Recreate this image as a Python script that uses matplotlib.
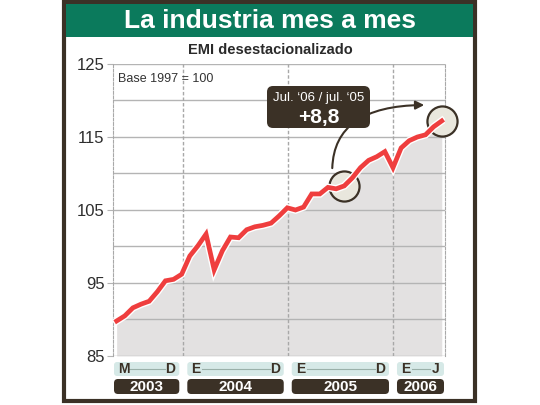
import matplotlib
matplotlib.use('Agg')
import matplotlib.pyplot as plt
from matplotlib.patches import FancyBboxPatch, Rectangle, FancyArrowPatch
import matplotlib.patheffects as pe

plt.rcParams['font.family'] = ['Liberation Sans Narrow', 'Liberation Sans', 'DejaVu Sans']

# EMI desestacionalizado, marzo 2003 - julio 2006 (base 1997 = 100)
emi = [89.8, 90.5, 91.6, 92.1, 92.5, 93.8, 95.3, 95.5, 96.2, 98.7,
       100.1, 101.7, 96.8, 99.4, 101.3, 101.2, 102.3, 102.7, 102.9, 103.2,
       104.2, 105.3, 105.0, 105.4, 107.2, 107.2, 108.1, 107.9, 108.3, 109.4,
       110.8, 111.8, 112.3, 113.0, 110.8, 113.5, 114.5, 115.0, 115.3, 116.4,
       117.2]
months = list(range(len(emi)))
years = ['2003', '2004', '2005', '2006']
month_ends = [('M', 'D'), ('E', 'D'), ('E', 'D'), ('E', 'J')]
year_breaks = [8.2, 21.05, 34.0]
yticks = [85, 95, 105, 115, 125]
highlight = [28, 40]  # jul. '05 y jul. '06

red = '#ef3e3e'
brown = '#3b3126'
green = '#0b7a5c'

fig = plt.figure(figsize=(5.4, 4.05), dpi=100)

# background overlay in pixel coordinates
bg = fig.add_axes([0, 0, 1, 1], zorder=0)
bg.set_xlim(0, 540)
bg.set_ylim(405, 0)
bg.axis('off')
bg.add_patch(Rectangle((64, 2), 411, 399, facecolor='white', edgecolor=brown, lw=3))
bg.add_patch(Rectangle((66, 4), 407, 33, facecolor=green, edgecolor='none'))
bg.text(270, 21, 'La industria mes a mes', color='white', fontsize=19, fontweight='bold',
        ha='center', va='center')
bg.text(270, 50, 'EMI desestacionalizado', color='#2a2a2a', fontsize=10.5, fontweight='bold',
        ha='center', va='center')

ax = fig.add_axes([113 / 540, 49 / 405, 332 / 540, 292 / 405], zorder=1)
ax.set_facecolor('white')
ax.set_xlim(-0.45, 40.4)
ax.set_ylim(85, 125)

ax.fill_between(months, emi, 85, color='#e3e1e1', lw=0, zorder=1)
for y in range(85, 126, 5):
    ax.axhline(y, color='#b4b4b4', lw=1, zorder=2)
for x in year_breaks:
    ax.axvline(x, color='#a8a8a8', lw=1, ls=(0, (2.5, 1.5)), zorder=2)

ax.scatter([months[i] for i in highlight], [emi[i] for i in highlight], s=470,
           facecolor='#e9e7dd', edgecolor=brown, lw=1.6, zorder=3, clip_on=False)
ax.plot(months, emi, color=red, lw=3.4, zorder=4, solid_joinstyle='miter',
        path_effects=[pe.Stroke(linewidth=5.4, foreground='white'), pe.Normal()])

for side in ['top', 'bottom']:
    ax.spines[side].set_visible(False)
for side in ['left', 'right']:
    ax.spines[side].set_linestyle((0, (2.5, 1.5)))
    ax.spines[side].set_color('#a8a8a8')
ax.set_xticks([])
ax.set_yticks(yticks)
ax.set_yticklabels([str(v) for v in yticks], fontsize=12, color='#2e2e2e')
ax.tick_params(axis='y', length=4, color='#b4b4b4', pad=2)
ax.text(0.2, 123, 'Base 1997 = 100', fontsize=9, color='#333333', va='center', zorder=5)

# foreground overlay: year boxes and callout
fg = fig.add_axes([0, 0, 1, 1], zorder=2)
fg.set_xlim(0, 540)
fg.set_ylim(405, 0)
fg.axis('off')
fg.patch.set_alpha(0)

fig.canvas.draw()


def to_px(x):
    return ax.transData.transform((x, 85))[0]


edges = [ax.get_xlim()[0]] + year_breaks + [ax.get_xlim()[1]]
for k, yr in enumerate(years):
    x0 = to_px(edges[k]) + (0 if k == 0 else 3)
    x1 = to_px(edges[k + 1]) - (0 if k == len(years) - 1 else 3)
    fg.add_patch(FancyBboxPatch((x0 + 1, 362), x1 - x0 - 2, 14,
                                boxstyle='round,pad=0,rounding_size=3',
                                facecolor='#d6e9e7', edgecolor='none'))
    fg.add_patch(FancyBboxPatch((x0 + 1, 379), x1 - x0 - 2, 15,
                                boxstyle='round,pad=0,rounding_size=4',
                                facecolor=brown, edgecolor='none'))
    fg.text((x0 + x1) / 2, 387, yr, color='white', fontsize=11, fontweight='bold',
            ha='center', va='center')
    a, b = month_ends[k]
    fg.text(x0 + 5, 369, a, color=brown, fontsize=10, fontweight='bold', ha='left', va='center')
    fg.text(x1 - 5, 369, b, color=brown, fontsize=10, fontweight='bold', ha='right', va='center')
    fg.plot([x0 + 16, x1 - 15], [369, 369], color='#9ab0a9', lw=0.8)

x_a, y_a = ax.transData.transform((months[highlight[0]], emi[highlight[0]]))
fg.add_patch(FancyArrowPatch((x_a - 12, 405 - y_a - 15), (427, 105),
                             connectionstyle='angle3,angleA=90,angleB=0',
                             arrowstyle='-|>,head_length=5,head_width=2.5',
                             color=brown, lw=1.5))
fg.add_patch(FancyBboxPatch((267, 86), 103, 42, boxstyle='round,pad=0,rounding_size=6',
                            facecolor=brown, edgecolor='none'))
fg.text(318.5, 98, 'Jul. \u201806 / jul. \u201805', color='white', fontsize=9.5,
        ha='center', va='center')
fg.text(318.5, 117, '+8,8', color='white', fontsize=15, fontweight='bold',
        ha='center', va='center')

fig.savefig('out.png', dpi=100)
